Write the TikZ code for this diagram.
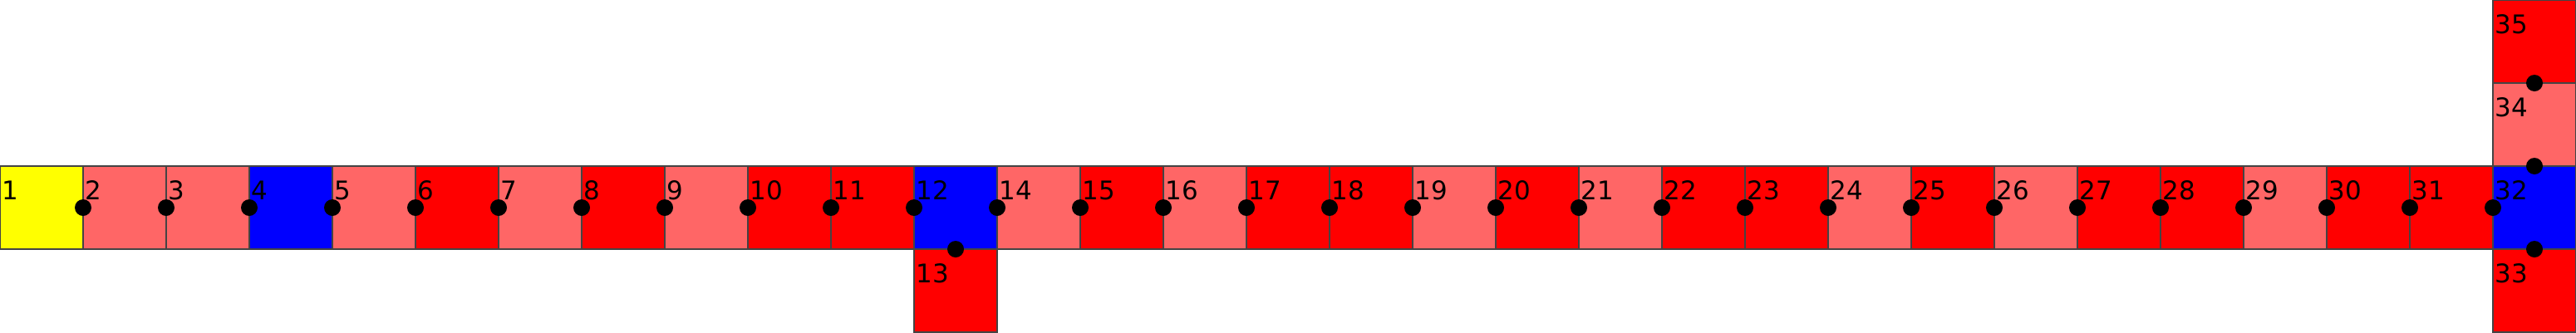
\documentclass[tikz,border=0pt]{standalone}
\usepackage{fontspec}
\setmainfont{DejaVu Sans}
\usepackage{xcolor}
\usepackage{tikz}
\usetikzlibrary{positioning, calc}

\definecolor{cellyellow}{HTML}{FFFF00}
\definecolor{celllight}{HTML}{FF6666}
\definecolor{cellred}{HTML}{FF0000}
\definecolor{cellblue}{HTML}{0000FF}
\definecolor{celledge}{HTML}{444444}

\tikzset{
    cell/.style={draw=celledge, line width=0.45pt, rectangle, minimum size=1cm,
                 inner sep=0pt, outer sep=0pt},
    num/.style={font=\fontsize{8.8}{10}\selectfont, inner sep=0pt, anchor=base west},
    joint/.style={circle, fill=black, minimum size=0.2cm, inner sep=0pt}
}

\begin{document}
\begin{tikzpicture}
    \useasboundingbox (0,0) rectangle (31,4);

    % Cells: number / colour / column / row
    \foreach \n/\c/\x/\y in {
        1/cellyellow/0/1, 2/celllight/1/1, 3/celllight/2/1, 4/cellblue/3/1,
        5/celllight/4/1, 6/cellred/5/1, 7/celllight/6/1, 8/cellred/7/1,
        9/celllight/8/1, 10/cellred/9/1, 11/cellred/10/1, 12/cellblue/11/1,
        13/cellred/11/0,
        14/celllight/12/1, 15/cellred/13/1, 16/celllight/14/1, 17/cellred/15/1,
        18/cellred/16/1, 19/celllight/17/1, 20/cellred/18/1, 21/celllight/19/1,
        22/cellred/20/1, 23/cellred/21/1, 24/celllight/22/1, 25/cellred/23/1,
        26/celllight/24/1, 27/cellred/25/1, 28/cellred/26/1, 29/celllight/27/1,
        30/cellred/28/1, 31/cellred/29/1, 32/cellblue/30/1,
        33/cellred/30/0, 34/celllight/30/2, 35/cellred/30/3}
    {
        \node[cell, fill=\c] (s\n) at (\x+0.5, \y+0.5) {};
        \node[num] (l\n) at ($(s\n.north west)+(0.02,-0.4)$) {\n};
    }

    % Joints between neighbouring cells
    \foreach \n in {2,...,12,14,15,...,32}
        \node[joint] (d\n) at (s\n.west) {};
    \node[joint] (d13) at (s13.north) {};
    \node[joint] (d33) at (s33.north) {};
    \node[joint] (d34) at (s34.south) {};
    \node[joint] (d35) at (s35.south) {};
\end{tikzpicture}
\end{document}
